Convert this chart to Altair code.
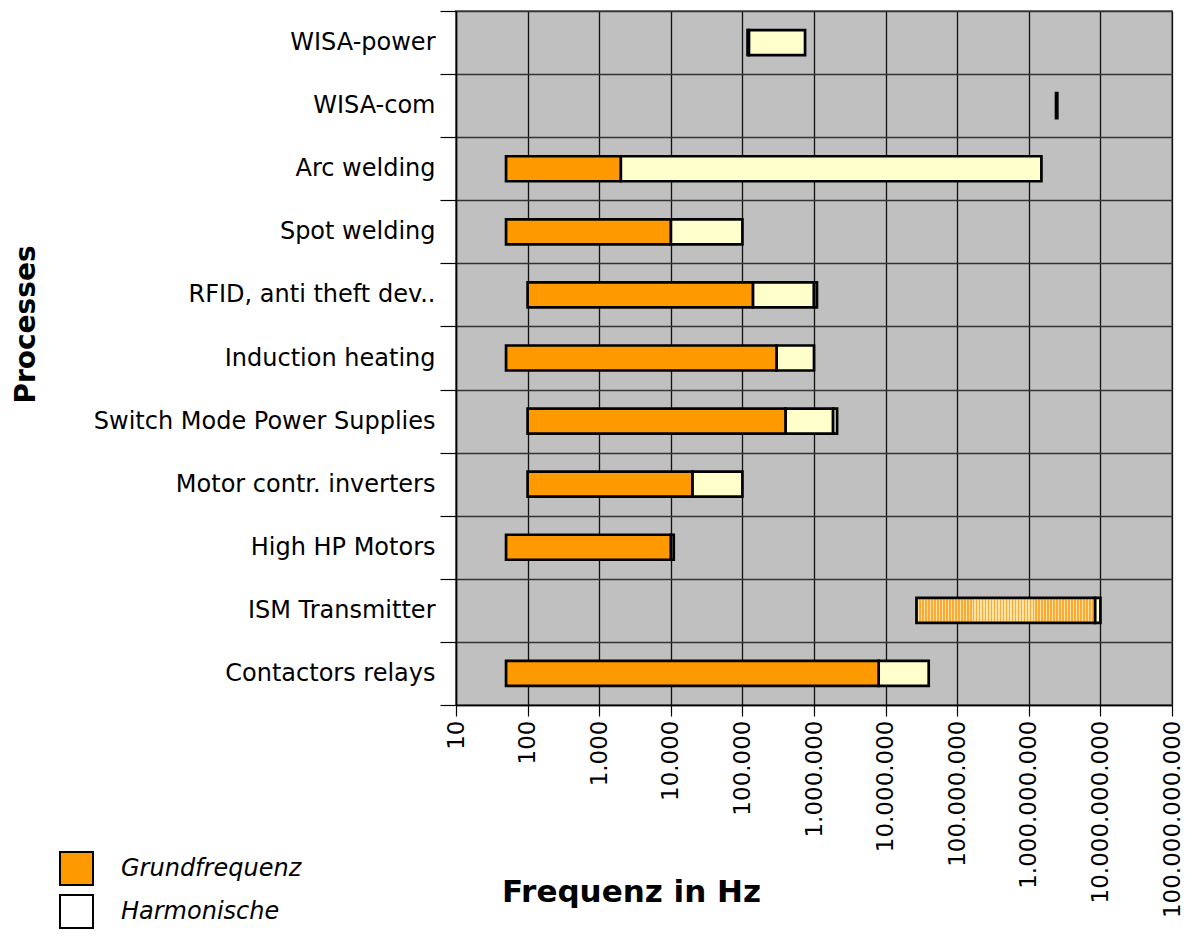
import altair as alt
import pandas as pd

# ---------------- data ----------------
processes = [
    "WISA-power",
    "WISA-com",
    "Arc welding",
    "Spot welding",
    "RFID, anti theft dev..",
    "Induction heating",
    "Switch Mode Power Supplies",
    "Motor contr. inverters",
    "High HP Motors",
    "ISM Transmitter",
    "Contactors relays",
]
# Fundamental frequency range (Grundfrequenz)
fund_start = [118000, 2.4e9, 50, 50, 100, 50, 100, 100, 50, 27e6, 50]
fund_end = [123000, 2.5e9, 2000, 10000, 140000, 300000, 400000, 20000, 10000, 8.4e9, 8e6]
# Harmonics end (Harmonische), None = no harmonic segment
harm_end = [750000, None, 1.5e9, 100000, 1.0e6, 1.0e6, 1.85e6, 100000, 11000, 1e10, 40e6]
# tiny trailing segment seen as a thick end edge
tail_end = [None, None, None, None, 1.1e6, None, 2.1e6, None, None, None, None]

tick_values = [1e1, 1e2, 1e3, 1e4, 1e5, 1e6, 1e7, 1e8, 1e9, 1e10, 1e11]
legend_labels = ["Grundfrequenz", "Harmonische"]

# ---------------- build segment table ----------------
rows = []
for p, s, fe, he, te in zip(processes, fund_start, fund_end, harm_end, tail_end):
    kind = "fund_ism" if p == "ISM Transmitter" else "fund"
    rows.append(dict(process=p, start=s, end=fe, kind=kind, legend=legend_labels[0]))
    if he is not None:
        rows.append(dict(process=p, start=fe, end=he, kind="harm", legend=legend_labels[1]))
        if te is not None:
            rows.append(dict(process=p, start=he, end=te, kind="harm", legend=legend_labels[1]))
df = pd.DataFrame(rows)

FONT = "DejaVu Sans"
ORANGE = "#FF9900"
PALE = "#FFFFCC"

W, H = 716, 694

x_enc = alt.X(
    "start:Q",
    scale=alt.Scale(type="log", domain=[tick_values[0], tick_values[-1]], nice=False),
    axis=alt.Axis(
        values=tick_values,
        labelExpr="replace(replace(replace(format(datum.value, ','), ',', '.'), ',', '.'), ',', '.')",
        labelAngle=270,
        labelAlign="right",
        labelBaseline="middle",
        labelFont=FONT,
        labelFontSize=23,
        labelColor="black",
        labelPadding=4,
        labelLimit=0,
        labelOverlap=False,
        labelFlush=False,
        labelBound=False,
        tickSize=11,
        tickColor="black",
        tickWidth=1.2,
        grid=True,
        gridColor="#111111",
        gridWidth=1.3,
        domainColor="black",
        domainWidth=1.5,
        title="Frequenz in Hz",
        titleFont=FONT,
        titleFontSize=31,
        titleFontWeight="bold",
        titleColor="black",
        titleX=175,
        titleY=187,
        titleAlign="center",
        titleBaseline="middle",
    ),
)
y_enc = alt.Y(
    "process:N",
    sort=processes,
    scale=alt.Scale(domain=processes, paddingInner=0, paddingOuter=0),
    axis=alt.Axis(
        title="Processes",
        titleFont=FONT,
        titleFontSize=28,
        titleFontWeight="bold",
        titleColor="black",
        titleAngle=270,
        titleX=-430,
        titleY=313,
        titleAlign="center",
        titleBaseline="middle",
        labelFont=FONT,
        labelFontSize=24,
        labelColor="black",
        labelPadding=5,
        labelLimit=0,
        tickSize=16,
        tickColor="black",
        tickWidth=1.2,
        tickBand="extent",
        grid=True,
        gridColor="#333333",
        gridWidth=1.3,
        domainColor="black",
        domainWidth=1.5,
    ),
)

base = alt.Chart(df)
bar_kw = dict(size=25, stroke="black", strokeWidth=2.7, strokeJoin="miter")

harm = base.transform_filter(alt.datum.kind == "harm").mark_bar(fill=PALE, **bar_kw).encode(
    x=x_enc, x2="end:Q", y=y_enc
)
fund = base.transform_filter(alt.datum.kind == "fund").mark_bar(fill=ORANGE, **bar_kw).encode(
    x=x_enc, x2="end:Q", y=y_enc
)

stops = []
n_stripes = 60
for i in range(n_stripes):
    a = i / n_stripes
    b = (i + 0.5) / n_stripes
    c = (i + 1) / n_stripes
    stops += [
        alt.GradientStop(offset=a, color="#FFAA33"),
        alt.GradientStop(offset=b, color="#FFAA33"),
        alt.GradientStop(offset=b, color="#FFE2A6"),
        alt.GradientStop(offset=c, color="#FFE2A6"),
    ]
stripes = alt.LinearGradient(gradient="linear", stops=stops, x1=0, x2=1, y1=0, y2=0)
ism = base.transform_filter(alt.datum.kind == "fund_ism").mark_bar(fill=stripes, **bar_kw).encode(
    x=x_enc, x2="end:Q", y=y_enc
)

legend_layer = base.mark_square(opacity=0).encode(
    x=x_enc,
    y=y_enc,
    color=alt.Color(
        "legend:N",
        scale=alt.Scale(domain=legend_labels, range=[ORANGE, "#FFFFFF"]),
        legend=alt.Legend(
            title=None,
            orient="none",
            legendX=-397,
            legendY=840,
            symbolType="square",
            symbolSize=1089,
            symbolStrokeColor="black",
            symbolStrokeWidth=2,
            symbolOpacity=1,
            labelFont=FONT,
            labelFontSize=24,
            labelFontStyle="italic",
            labelColor="black",
            labelOffset=27,
            labelLimit=0,
            rowPadding=2,
            padding=0,
        ),
    ),
)

chart = (
    alt.layer(harm, fund, ism, legend_layer)
    .properties(
        width=W,
        height=H,
        autosize=alt.AutoSizeParams(type="none"),
        padding={"left": 448, "top": 3, "right": 12, "bottom": 224},
        background="white",
    )
    .configure_view(fill="#C0C0C0", stroke="#808080", strokeWidth=2)
)

chart.save("out.html", embed_options={"renderer": "svg", "actions": False})
